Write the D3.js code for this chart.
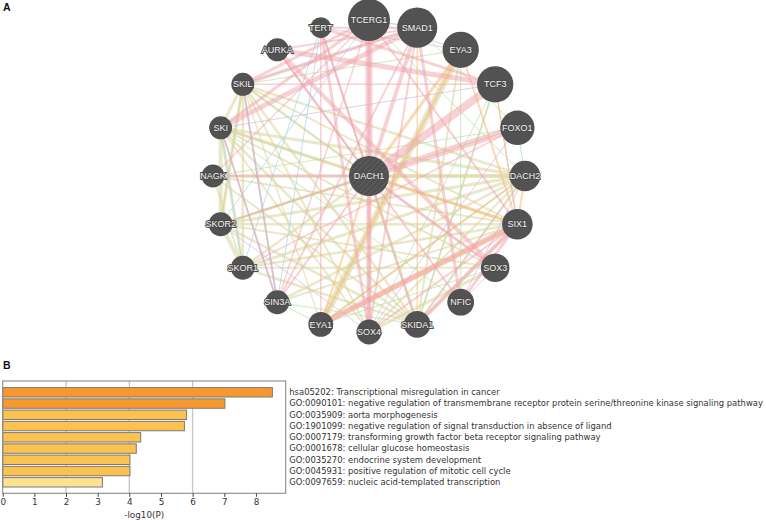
<!DOCTYPE html>
<html><head><meta charset="utf-8">
<script src="https://cdn.jsdelivr.net/npm/d3@7"></script>
<style>body{margin:0;background:#fff}svg{display:block}</style>
</head><body><svg id="c" width="766" height="520"></svg>
<script>
// ---------- Panel A data ----------
const ringGenes = ["TCERG1","SMAD1","EYA3","TCF3","FOXO1","DACH2","SIX1","SOX3","NFIC","SKIDA1","SOX4","EYA1","SIN3A","SKOR1","SKOR2","NAGK","SKI","SKIL","AURKA","TERT"];
const ringScores = [21,20,18,18,17,15,15,14,13,13,12,12,11.5,11.5,11.5,11,11,11,11,10];
const queryGene = "DACH1";
const queryScore = 20;
const edgeTypes = ["phys","dom","pred","path","coexp","gen"];
const edgeColors = ["#f0a3aa","#d9d59e","#f7bc7c","#9fd5e8","#d4b8e2","#b9dfa6"];
// [source, target, weight, type]
const edges = [
 ["SKI","SKIL",3,"dom"],["SKI","SKOR1",3,"dom"],["SKI","SKOR2",4,"dom"],["SKI","SKIDA1",2.5,"dom"],["SKI","DACH1",3,"dom"],["SKI","DACH2",3,"dom"],
 ["SKIL","SKOR1",2.5,"dom"],["SKIL","SKOR2",3,"dom"],["SKIL","SKIDA1",2.5,"dom"],["SKIL","DACH1",2.5,"dom"],["SKIL","DACH2",2.5,"dom"],
 ["SKOR1","SKOR2",4,"dom"],["SKOR1","SKIDA1",2.5,"dom"],["SKOR1","DACH1",2.5,"dom"],["SKOR1","DACH2",3,"dom"],
 ["SKOR2","SKIDA1",2.5,"dom"],["SKOR2","DACH1",3,"dom"],["SKOR2","DACH2",3,"dom"],
 ["SKIDA1","DACH1",3,"dom"],["SKIDA1","DACH2",2.5,"dom"],["DACH1","DACH2",4,"dom"],
 ["SOX3","SOX4",3,"dom"],["EYA1","EYA3",7,"dom"],["SIX1","SKOR1",2.5,"dom"],["SIX1","SKOR2",2.5,"dom"],["SIX1","SKI",2.5,"dom"],
 ["SKIDA1","EYA3",2,"dom"],["SOX4","SKI",2,"dom"],["SOX3","SKOR2",2,"dom"],["NAGK","DACH2",2.5,"dom"],["SKIDA1","SIX1",2.5,"dom"],
 ["SIN3A","DACH2",2.5,"dom"],["SKOR1","SOX3",2,"dom"],["EYA1","DACH2",2,"dom"],["SKIL","SOX4",2,"dom"],["NAGK","SKOR1",2,"dom"],
 ["NAGK","SIX1",2,"dom"],["SKI","SOX3",2,"dom"],["SKOR2","FOXO1",1.5,"dom"],["SIN3A","SIX1",2,"dom"],["SKIDA1","NAGK",2,"dom"],
 ["SOX4","DACH2",2,"dom"],["SKIL","SIX1",2,"dom"],["EYA1","SKIL",1.5,"dom"],["SKIDA1","TCF3",2,"dom"],["SKOR2","SKIL",2,"dom"],
 ["TCERG1","DACH1",7,"phys"],["TCF3","DACH1",8,"phys"],["FOXO1","DACH1",7,"phys"],["SMAD1","SKI",5,"phys"],["SMAD1","SKIL",3.5,"phys"],
 ["AURKA","TCF3",5,"phys"],["TERT","TCF3",3,"phys"],["TCERG1","SKIL",3,"phys"],["TERT","SOX4",3,"phys"],["TERT","DACH1",2,"phys"],["TERT","SKIDA1",2,"phys"],
 ["AURKA","SOX3",4,"phys"],["AURKA","NFIC",2,"phys"],["SKI","SIN3A",2,"phys"],["SKIL","SIN3A",2,"phys"],["SIX1","EYA1",6,"phys"],
 ["DACH1","SOX4",5,"phys"],["TCERG1","SOX4",3,"phys"],["NAGK","DACH1",3,"phys"],["SIN3A","DACH1",2,"phys"],["SIN3A","SMAD1",2,"phys"],
 ["SIN3A","TCERG1",1.5,"phys"],["SMAD1","DACH1",4,"phys"],["SMAD1","SOX4",2,"phys"],["SIX1","SKIDA1",4,"phys"],["SOX3","DACH1",3,"phys"],
 ["SIX1","NFIC",3,"phys"],["TERT","SMAD1",2,"phys"],["AURKA","SMAD1",2,"phys"],["NAGK","TCERG1",1.5,"phys"],["SKI","TCERG1",3,"phys"],
 ["SOX4","SIX1",2,"phys"],["EYA1","TERT",1.5,"phys"],["DACH1","SKOR2",1.5,"phys"],["TCERG1","SIX1",2,"phys"],["AURKA","DACH1",2,"phys"],
 ["SMAD1","NFIC",3,"phys"],["SKIL","TCF3",1.5,"phys"],["FOXO1","SKOR1",1.5,"phys"],
 ["EYA3","DACH1",3,"pred"],["EYA3","SIX1",2,"pred"],["SIX1","EYA1",4,"pred"],["SIX1","DACH1",3,"pred"],["EYA1","DACH1",2,"pred"],
 ["EYA3","EYA1",2.5,"pred"],["DACH2","SIX1",2,"pred"],["DACH2","EYA1",1.5,"pred"],["SMAD1","SKIDA1",1.5,"pred"],["TCF3","SIX1",1.5,"pred"],
 ["SKI","SIN3A",1.5,"path"],["SKIL","SIN3A",1.5,"path"],["TERT","SIN3A",1,"path"],["TCERG1","SKOR2",1,"path"],["SMAD1","TCERG1",1.5,"path"],
 ["SMAD1","SKIL",1,"path"],["SKI","SKOR1",1,"path"],["FOXO1","DACH2",1,"path"],["TERT","SKOR1",1,"path"],
 ["SOX4","FOXO1",1,"coexp"],["TCERG1","EYA3",1,"coexp"],["NFIC","SOX3",1,"coexp"],["DACH1","SOX3",1,"coexp"],["TERT","EYA3",1,"coexp"],
 ["SKIDA1","DACH2",1,"coexp"],["SOX4","SKOR2",1,"coexp"],["TCF3","SIX1",1,"coexp"],["SKI","TCF3",1,"coexp"],["NFIC","DACH2",1,"coexp"],
 ["TCF3","SKIDA1",1,"gen"],["EYA3","NFIC",1,"gen"],["SMAD1","FOXO1",1,"gen"],["SIN3A","SKIDA1",1,"gen"],["SKIL","DACH1",1,"gen"],
 ["TCERG1","DACH2",1,"gen"],["EYA1","SOX3",1,"gen"],["NAGK","FOXO1",1,"gen"],["SIN3A","EYA1",1,"gen"],["SKIL","EYA3",1,"gen"],
 ["TCF3","SOX4",1,"gen"],["SKI","NFIC",1,"gen"]
];

// ---------- Panel B data ----------
const terms = [
 "hsa05202: Transcriptional misregulation in cancer",
 "GO:0090101: negative regulation of transmembrane receptor protein serine/threonine kinase signaling pathway",
 "GO:0035909: aorta morphogenesis",
 "GO:1901099: negative regulation of signal transduction in absence of ligand",
 "GO:0007179: transforming growth factor beta receptor signaling pathway",
 "GO:0001678: cellular glucose homeostasis",
 "GO:0035270: endocrine system development",
 "GO:0045931: positive regulation of mitotic cell cycle",
 "GO:0097659: nucleic acid-templated transcription"
];
const logP = [8.52, 7.02, 5.81, 5.74, 4.36, 4.22, 4.02, 4.02, 3.15];
const xTicks = [0,1,2,3,4,5,6,7,8];
const gridTicks = [2,4,6];
const xLabel = "-log10(P)";

(function(){
const svg = d3.select("#c");
const font = "Liberation Sans, Arial, sans-serif";

svg.append("text").attr("x",3).attr("y",11).text("A")
  .attr("font-family",font).attr("font-weight","bold").attr("font-size",10.5).attr("fill","#111");
svg.append("text").attr("x",3).attr("y",369).text("B")
  .attr("font-family",font).attr("font-weight","bold").attr("font-size",10.5).attr("fill","#111");

const cx = 369, cy = 176, R = 156;
const angle = d3.scalePoint().domain(ringGenes).range([0, 2*Math.PI*(ringGenes.length-1)/ringGenes.length]);
const rScale = d3.scaleLinear().domain([10,21]).range([10.5,21]);
const pos = {};
ringGenes.forEach((g,i)=>{
  const a = angle(g);
  pos[g] = {x: cx + R*Math.sin(a), y: cy - R*Math.cos(a), r: rScale(ringScores[i])};
});
pos[queryGene] = {x: cx, y: cy, r: rScale(queryScore)};
const color = d3.scaleOrdinal().domain(edgeTypes).range(edgeColors);

const gE = svg.append("g");
const order = ["dom","gen","coexp","path","pred","phys"];
const sorted = edges.slice().sort((a,b)=>order.indexOf(a[3])-order.indexOf(b[3]));
gE.selectAll("line").data(sorted).join("line")
  .attr("x1",d=>pos[d[0]].x).attr("y1",d=>pos[d[0]].y)
  .attr("x2",d=>pos[d[1]].x).attr("y2",d=>pos[d[1]].y)
  .attr("stroke",d=>color(d[3]))
  .attr("stroke-width",d=>d[2])
  .attr("stroke-opacity",d=>d[3]==="dom"?0.55:(d[3]==="phys"?0.5:(d[3]==="pred"?0.55:0.7)));

const defs = svg.append("defs");
const pat = defs.append("pattern").attr("id","hatch").attr("patternUnits","userSpaceOnUse")
  .attr("width",4).attr("height",4).attr("patternTransform","rotate(45)");
pat.append("rect").attr("width",4).attr("height",4).attr("fill","#505050");
pat.append("line").attr("x1",0).attr("y1",0).attr("x2",0).attr("y2",4).attr("stroke","#696969").attr("stroke-width",1.2);

const nodes = ringGenes.concat([queryGene]);
const gN = svg.append("g");
const ng = gN.selectAll("g").data(nodes).join("g")
  .attr("transform",d=>`translate(${pos[d].x},${pos[d].y})`);
ng.append("circle").attr("r",d=>pos[d].r)
  .attr("fill",d=>d===queryGene?"url(#hatch)":"#525252");
ng.append("text").text(d=>d)
  .attr("text-anchor","middle").attr("dy","0.35em")
  .attr("font-family",font).attr("font-size",9)
  .attr("fill","#f4f4f4").attr("stroke","#4a4a4a").attr("stroke-width",1.8)
  .attr("paint-order","stroke");

// Bar chart
const pL = 2.7, pR = 285.7, pT = 381, pB = 493.3;
const x = d3.scaleLinear().domain([0, 8.94]).range([pL, pR]);
const y = d3.scalePoint().domain(terms).range([392.3, 482.3]);
const barH = 9.4;
const gB = svg.append("g");
gB.selectAll("line.grid").data(gridTicks).join("line").attr("class","grid")
  .attr("x1",d=>x(d)).attr("x2",d=>x(d)).attr("y1",pT).attr("y2",pB)
  .attr("stroke","#c8c8c8").attr("stroke-width",1.4);
const barColor = v => v>=6.5 ? "#f7982f" : (v>=3.5 ? "#fcc24f" : "#fee28f");
gB.selectAll("rect.bar").data(terms).join("rect").attr("class","bar")
  .attr("x",x(0)).attr("y",d=>y(d)-barH/2)
  .attr("width",(d,i)=>x(logP[i])-x(0)).attr("height",barH)
  .attr("fill",(d,i)=>barColor(logP[i])).attr("stroke","#7a7a7a").attr("stroke-width",1);
gB.append("rect").attr("x",pL).attr("y",pT).attr("width",pR-pL).attr("height",pB-pT)
  .attr("fill","none").attr("stroke","#8a8a8a").attr("stroke-width",1.1);
const ax = d3.axisBottom(x).tickValues(xTicks).tickSize(3.5).tickPadding(2).tickFormat(d3.format("d"));
const axG = gB.append("g").attr("transform",`translate(0,${pB})`).call(ax);
axG.select(".domain").remove();
axG.selectAll("line").attr("stroke","#444");
axG.selectAll("text").attr("font-family","DejaVu Sans, sans-serif").attr("font-size",8.8).attr("fill","#333");
gB.append("text").attr("x",(pL+pR)/2).attr("y",518).attr("text-anchor","middle")
  .attr("font-family","DejaVu Sans, sans-serif").attr("font-size",8.8).attr("fill","#333").text(xLabel);
const lab = gB.selectAll("text.lab").data(terms).join("text").attr("class","lab")
  .attr("x",289.3).attr("y",d=>y(d)).attr("dy","0.35em")
  .attr("font-family","DejaVu Sans, sans-serif").attr("font-size",8.3).attr("fill","#333").text(d=>d);
const longest = lab.nodes()[1].getComputedTextLength();
lab.attr("font-size",8.3 * 474 / longest);
})();
</script></body></html>
